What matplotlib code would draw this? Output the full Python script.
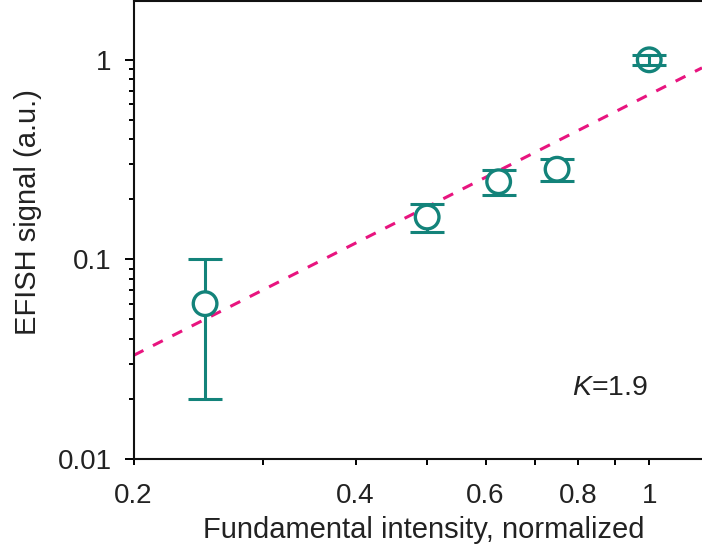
import numpy as np
import matplotlib
matplotlib.use("Agg")
import matplotlib.pyplot as plt
from matplotlib.ticker import FixedLocator, NullFormatter, LogLocator, NullLocator

plt.rcParams['font.family'] = ['Liberation Sans', 'DejaVu Sans']
plt.rcParams['mathtext.fontset'] = 'custom'
plt.rcParams['mathtext.rm'] = 'Liberation Sans'
plt.rcParams['mathtext.it'] = 'Liberation Sans:italic'
plt.rcParams['text.color'] = '#222222'
plt.rcParams['xtick.labelcolor'] = '#222222'
plt.rcParams['ytick.labelcolor'] = '#222222'
plt.rcParams['axes.labelcolor'] = '#222222'

# Data
intensity = [0.25, 0.50, 0.625, 0.75, 1.00]
signal = [0.060, 0.163, 0.245, 0.283, 1.00]
signal_err = [0.040, 0.026, 0.034, 0.037, 0.055]
hollow = [False, False, False, False, True]

fit_K = 1.87
fit_A = 0.67

x_ticks = [0.2, 0.3, 0.4, 0.5, 0.6, 0.7, 0.8, 0.9, 1.0]
x_ticklabels = ['0.2', '', '0.4', '', '0.6', '', '0.8', '', '1']
y_ticks = [0.01, 0.1, 1]
y_ticklabels = ['0.01', '0.1', '1']

teal = '#13837a'
magenta = '#e8147f'

fig = plt.figure(figsize=(7.02, 5.52), dpi=100)
ax = fig.add_axes([0.1903, 0.1685, 1.0 - 0.1903, 0.9973 - 0.1685])
ax.set_xscale('log')
ax.set_yscale('log')
ax.set_xlim(0.2, 1.179)
ax.set_ylim(0.01, 1.96)

# fit line
xf = np.geomspace(0.2, 1.179, 200)
ax.plot(xf, fit_A * xf ** fit_K, color=magenta, lw=2.2, ls=(0, (3.6, 3.5)), zorder=1)

# error bars
ax.errorbar(intensity, signal, yerr=signal_err, fmt='none', ecolor=teal,
            elinewidth=2.2, capsize=12.5, capthick=2.2, zorder=2)

# markers
faces = ['none' if h else 'white' for h in hollow]
ax.scatter(intensity, signal, s=17 ** 2, facecolors=faces, edgecolors=teal,
           linewidths=2.4, zorder=3)

ax.text(0.771, 0.140, r'$K$=1.9', transform=ax.transAxes, fontsize=20.5,
        ha='left', va='baseline')

# axes styling
for s in ['left', 'bottom', 'top']:
    ax.spines[s].set_linewidth(1.5)
    ax.spines[s].set_color('#111111')
ax.spines['right'].set_visible(False)

ax.xaxis.set_major_locator(FixedLocator(x_ticks))
ax.xaxis.set_minor_locator(NullLocator())
ax.set_xticklabels(x_ticklabels)
ax.yaxis.set_major_locator(FixedLocator(y_ticks))
ax.set_yticklabels(y_ticklabels)
ax.yaxis.set_minor_locator(LogLocator(base=10, subs=np.arange(2, 10)))
ax.yaxis.set_minor_formatter(NullFormatter())

ax.tick_params(axis='x', which='major', direction='out', length=4.5, width=1.4,
               labelsize=20, pad=13, top=False)
ax.tick_params(axis='y', which='major', direction='out', length=6.5, width=1.4,
               labelsize=20, pad=9.4, right=False)
ax.tick_params(axis='y', which='minor', direction='out', length=3.6, width=1.4,
               right=False)

ax.set_xlabel('Fundamental intensity, normalized', fontsize=21)
ax.set_ylabel('EFISH signal (a.u.)', fontsize=21)
ax.xaxis.set_label_coords(0.51, -0.1246)
ax.yaxis.set_label_coords(-0.161, 0.539)

fig.savefig('out.png', dpi=100)
